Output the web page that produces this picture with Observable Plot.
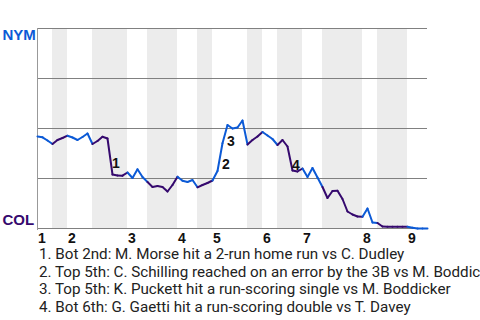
<!DOCTYPE html>
<html><head><meta charset="utf-8">
<script src="https://cdn.jsdelivr.net/npm/d3@7"></script>
<script src="https://cdn.jsdelivr.net/npm/@observablehq/plot@0.6"></script>
<style>
body{margin:0;background:#fff;width:480px;height:320px;overflow:hidden}
#cap{font-family:Roboto,sans-serif;font-size:15.2px;line-height:17.7px;white-space:nowrap;padding-left:39px;color:#222}
</style></head>
<body><div id="chart"></div><div id="cap"></div>
<script>
// events per half-inning (Top 1, Bot 1, Top 2, ...)
const halfCounts = [3,3,5,7,4,6,4,3,7,3,3,5,4,8,3,6,4];
// win probability toward NYM after each event (index 0 = start)
const wp = [
0.46,0.456,0.44,0.4225,0.4425,0.4525,0.464,0.455,0.4425,0.4575,
0.475,0.4225,0.4375,0.459,0.45,0.27,0.265,0.264,0.28,0.2525,
0.296,0.2575,0.2325,0.2075,0.2125,0.2075,0.185,0.2175,0.259,0.239,
0.2325,0.2425,0.206,0.2175,0.2275,0.24,0.2875,0.426,0.5175,0.50,
0.505,0.54,0.42,0.4425,0.46,0.4825,0.465,0.4475,0.4175,0.4425,
0.41,0.29,0.285,0.30,0.2575,0.3025,0.255,0.2075,0.1525,0.1875,
0.189,0.1475,0.085,0.07,0.06,0.059,0.10,0.03,0.0275,0.01,
0.009,0.009,0.009,0.009,0.009,0.004,0,0,0];
const innings = ["1","2","3","4","5","6","7","8","9"];
const teams = ["NYM","COL"];
const annotEvents = [15,37,38,51];
const annotLabels = ["1","2","3","4"];
const captions = [
"1. Bot 2nd: M. Morse hit a 2-run home run vs C. Dudley",
"2. Top 5th: C. Schilling reached on an error by the 3B vs M. Boddicker",
"3. Top 5th: K. Puckett hit a run-scoring single vs M. Boddicker",
"4. Bot 6th: G. Gaetti hit a run-scoring double vs T. Davey"];
const gridValues = [0,0.25,0.5,0.75,1];

const BLUE = "#0c5ad6", PURPLE = "#35096e";

// build half-inning boundaries
const bounds = [0];
halfCounts.forEach(c => bounds.push(bounds[bounds.length-1] + c));
const total = bounds[bounds.length-1];
const halfOf = [];
halfCounts.forEach((c,h) => { for (let k=0;k<c;k++) halfOf.push(h); });
const segs = halfOf.map((h,k) => ({x1:k, x2:k+1, y1:wp[k], y2:wp[k+1], top: h%2===0}));
const bands = halfCounts.map((c,h)=>({x1:bounds[h], x2:bounds[h+1], bot:h%2===1})).filter(d=>d.bot);
const inningStarts = innings.map((s,i)=>({label:s, x:bounds[2*i]}));
const annots = annotEvents.map((e,i)=>({x:e-0.5, y:(wp[e-1]+wp[e])/2, label:annotLabels[i]}));

const chart = Plot.plot({
  width:480, height:246,
  marginLeft:37, marginRight:53, marginTop:28, marginBottom:18,
  style:{fontFamily:"'Liberation Sans', Arial, sans-serif", fontSize:"14px", background:"#fff", overflow:"visible"},
  x:{domain:[0,total], axis:null},
  y:{domain:[0,1], axis:null},
  marks:[
    Plot.rect(bands,{x1:"x1",x2:"x2",y1:0,y2:1,fill:"#ececec"}),
    Plot.ruleY(gridValues,{stroke:"#808080",strokeWidth:1}),
    Plot.ruleX([0],{stroke:"#999",strokeWidth:1,insetBottom:-2}),
    Plot.link(segs,{x1:"x1",y1:"y1",x2:"x2",y2:"y2",stroke:d=>d.top?BLUE:PURPLE,strokeWidth:2,strokeLinecap:"round",strokeLinejoin:"round"}),
    Plot.text(annots,{x:"x",y:"y",text:"label",textAnchor:"start",dx:2,dy:7.5,fontWeight:"bold",fontSize:14,fill:"#111"}),
    Plot.text(inningStarts,{x:"x",y:0,text:"label",textAnchor:"start",dx:0.5,dy:10,fontWeight:"bold",fontSize:14,fill:"#111"}),
    Plot.text([teams[0]],{x:0,y:1,text:d=>d,textAnchor:"start",dx:-35,dy:6.7,fontWeight:"bold",fontSize:15,fill:BLUE}),
    Plot.text([teams[1]],{x:0,y:0,text:d=>d,textAnchor:"start",dx:-35,dy:-8,fontWeight:"bold",fontSize:15,fill:PURPLE})
  ]
});
document.getElementById("chart").appendChild(chart);
const cap = document.getElementById("cap");
captions.forEach(t=>{const d=document.createElement("div");d.textContent=t;cap.appendChild(d);});
</script>
</body></html>
